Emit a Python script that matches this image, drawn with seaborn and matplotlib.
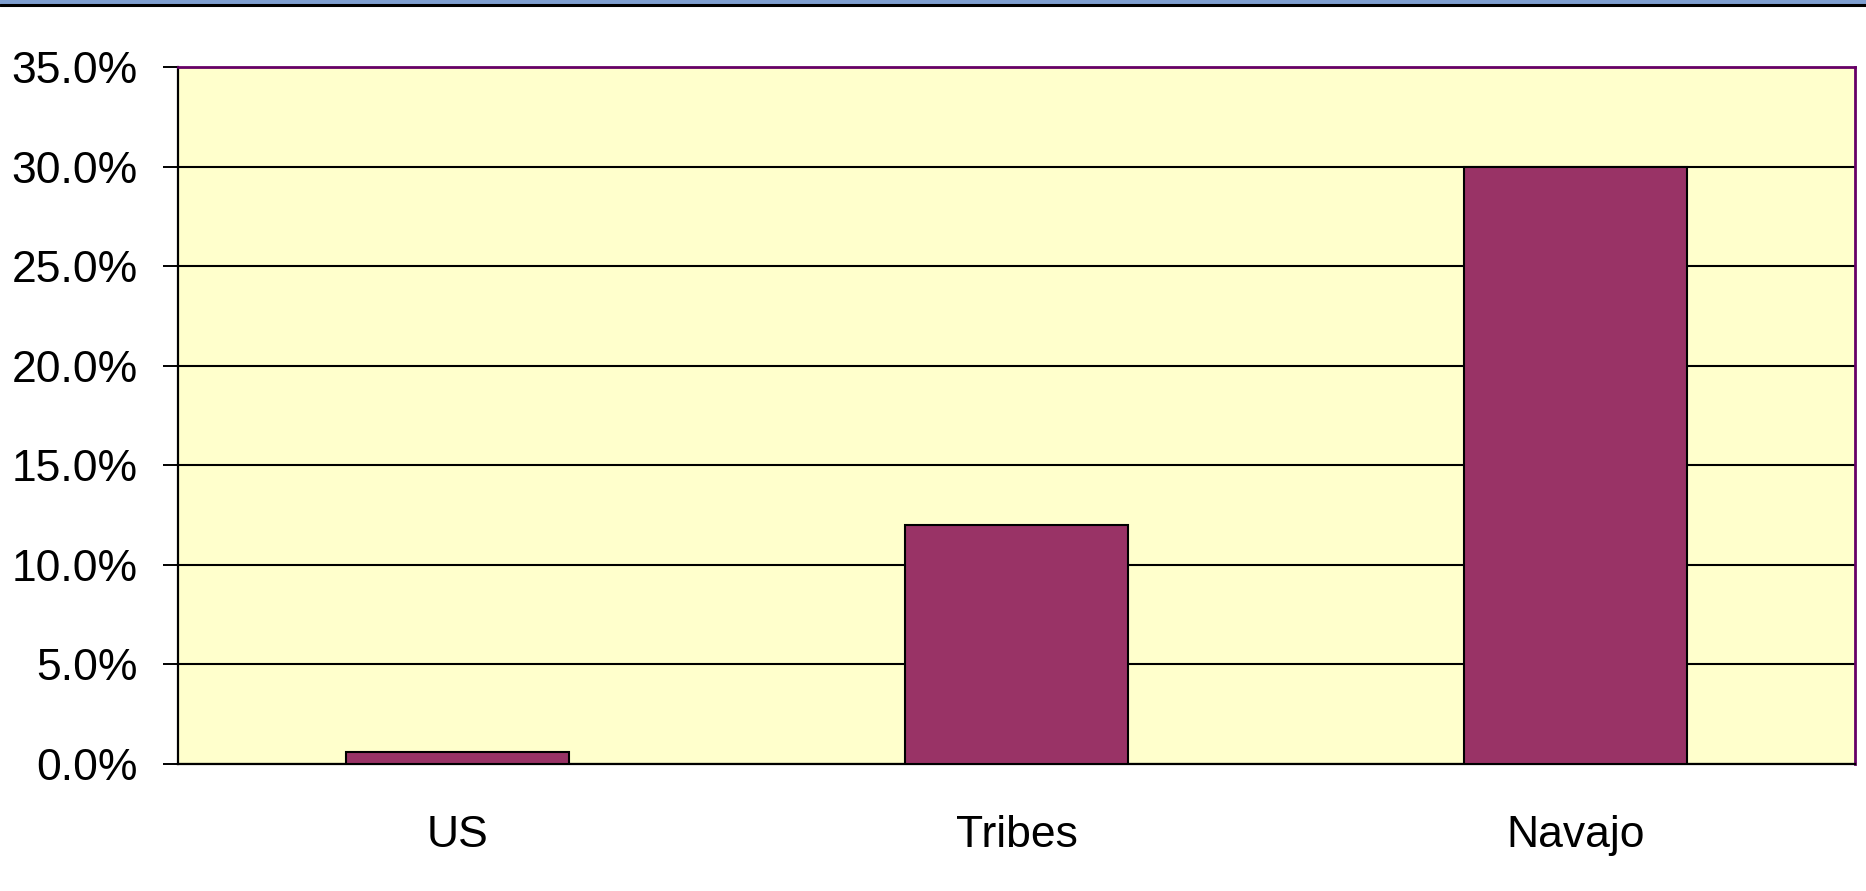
import matplotlib
matplotlib.use("Agg")
import matplotlib.pyplot as plt
import matplotlib.ticker as mticker
import pandas as pd
import seaborn as sns
from matplotlib.patches import Rectangle
from matplotlib.lines import Line2D

categories = ["US", "Tribes", "Navajo"]
rates = [0.006, 0.120, 0.300]
y_ticks = [0.0, 0.05, 0.10, 0.15, 0.20, 0.25, 0.30, 0.35]

BAR = "#993366"
PLOT_BG = "#FFFFCC"
FRAME = "#660066"

sns.set_theme(style="white")
plt.rcParams["font.family"] = ["Liberation Sans", "DejaVu Sans"]

df = pd.DataFrame({"group": categories, "rate": rates})

fig = plt.figure(figsize=(18.66, 8.91), dpi=100)
ax = fig.add_axes([0.0954, 0.1425, 0.9987 - 0.0954 - 0.0046, 0.9248 - 0.1425])

# header strip left over from the slide
fig.patches.append(Rectangle((0, 1 - 3.5 / 891), 1, 3.5 / 891, transform=fig.transFigure,
                             facecolor="#7f9fd0", edgecolor="none", zorder=0))
fig.lines.append(Line2D([0, 1], [1 - 4.5 / 891, 1 - 4.5 / 891], transform=fig.transFigure,
                        color="black", linewidth=2.2))

ax.set_facecolor(PLOT_BG)
sns.barplot(data=df, x="group", y="rate", color=BAR, saturation=1, width=0.4,
            edgecolor="black", linewidth=1.5, ax=ax, zorder=3)

ax.set_ylim(0, 0.35)
ax.set_xlim(-0.5, 2.5)
ax.set_yticks(y_ticks)
ax.yaxis.set_major_formatter(mticker.PercentFormatter(1.0, decimals=1))
ax.grid(axis="y", color="black", linewidth=1.5, zorder=1)
ax.set_axisbelow(True)

ax.set_xticks([-0.5, 0.5, 1.5, 2.5], minor=True)
ax.tick_params(axis="x", which="major", length=0, pad=37, labelsize=32, labelcolor="black")
ax.tick_params(axis="x", which="minor", length=11.5, width=1.4, color="black", direction="out")
ax.tick_params(axis="y", length=11, width=1.4, color="black", direction="out", pad=18,
               labelsize=32, labelcolor="black")
ax.tick_params(left=True)

ax.set_xlabel("")
ax.set_ylabel("")

for side in ["left", "bottom"]:
    ax.spines[side].set_color("black")
    ax.spines[side].set_linewidth(1.6)
for side in ["top", "right"]:
    ax.spines[side].set_color(FRAME)
    ax.spines[side].set_linewidth(2.0)

fig.savefig("out.png", dpi=100, facecolor="white")
